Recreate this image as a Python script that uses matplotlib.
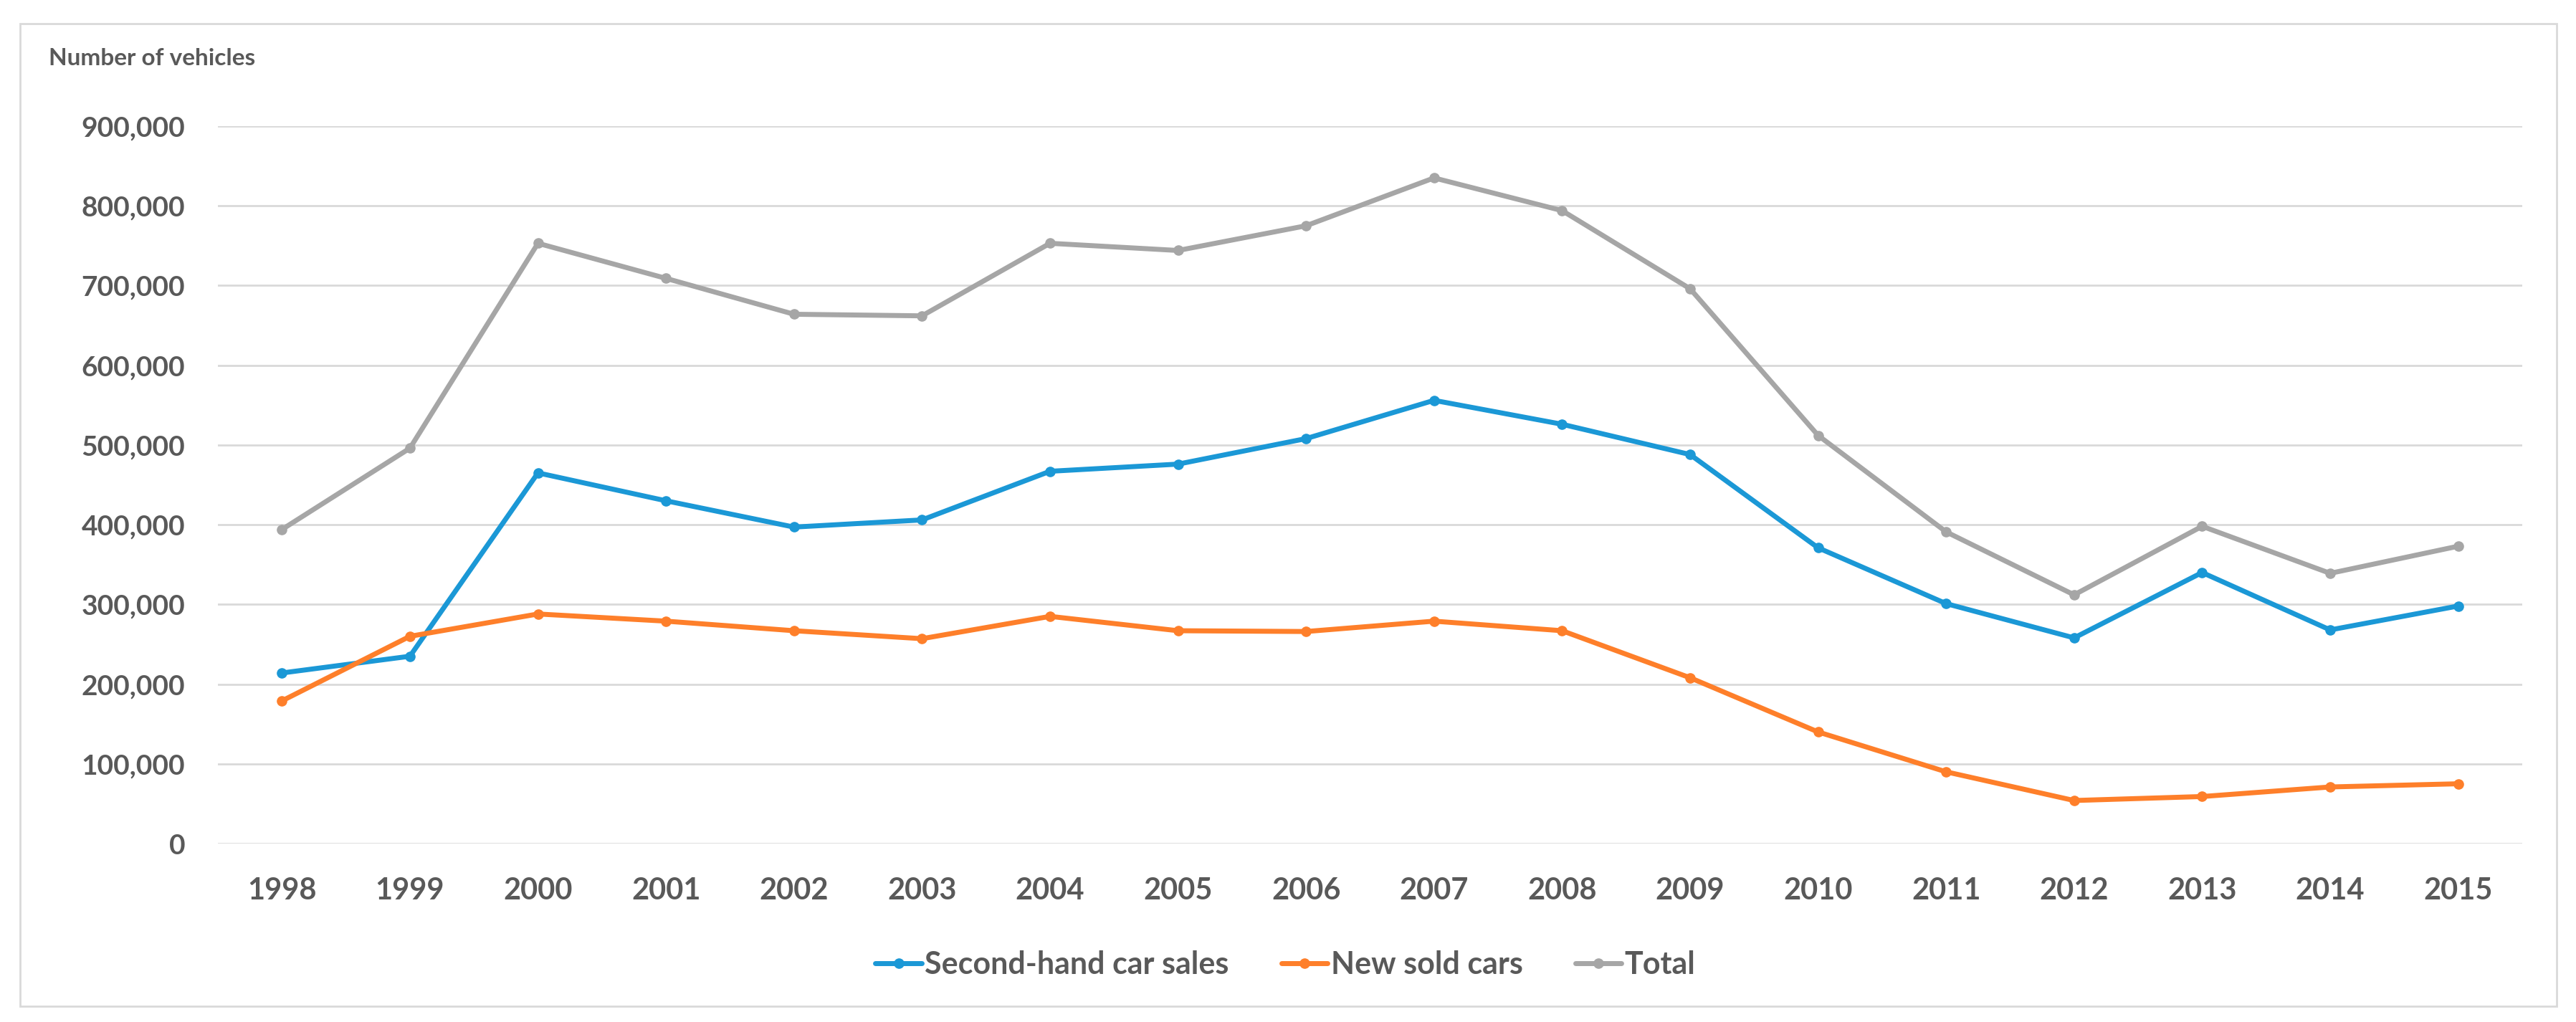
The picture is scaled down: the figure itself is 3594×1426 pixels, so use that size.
import matplotlib
matplotlib.use("Agg")
from matplotlib import pyplot as plt
from matplotlib.patches import Rectangle
from matplotlib.ticker import FuncFormatter

plt.rcParams['font.family'] = ['Lato', 'DejaVu Sans']

years = [str(y) for y in range(1998, 2016)]
second_hand = [214000, 235000, 465000, 430000, 397000, 406000, 467000, 476000, 508000,
               556000, 526000, 488000, 371000, 301000, 258000, 340000, 268000, 298000]
new_sold = [179000, 260000, 288000, 279000, 267000, 257000, 285000, 267000, 266000,
            279000, 267000, 208000, 140000, 90000, 54000, 59000, 71000, 75000]
total = [394000, 496000, 753000, 709000, 664000, 662000, 753000, 744000, 775000,
         835000, 794000, 696000, 512000, 391000, 312000, 398000, 339000, 373000]

series_names = ["Second-hand car sales", "New sold cars", "Total"]
colors = ["#1B98D6", "#FE7F2A", "#A6A6A6"]
text_col = "#595959"

fig = plt.figure(figsize=(35.94, 14.26), dpi=100)
ax = fig.add_axes([0.0846, 0.1746, 0.8945, 0.702])

x = range(len(years))
for vals, name, c in zip([second_hand, new_sold, total], series_names, colors):
    ax.plot(x, vals, color=c, lw=5, marker='o', markersize=9.5, label=name,
            solid_joinstyle='round', solid_capstyle='round')

ax.set_xlim(-0.5, len(years) - 0.5)
ax.set_ylim(0, 900000)
ax.set_yticks(range(0, 900001, 100000))
ax.yaxis.set_major_formatter(FuncFormatter(lambda v, p: f"{int(v):,}"))
ax.set_xticks(list(x))
ax.set_xticklabels(years)
ax.grid(axis='y', color='#D9D9D9', lw=2)
ax.set_axisbelow(True)
for s in ax.spines.values():
    s.set_visible(False)
ax.tick_params(axis='both', length=0, colors=text_col, labelsize=28)
ax.tick_params(axis='y', pad=33)
ax.tick_params(axis='x', pad=34, labelsize=30)
for lbl in ax.get_xticklabels() + ax.get_yticklabels():
    lbl.set_fontweight('bold')

fig.text(0.0189, 0.9425, "Number of vehicles", fontsize=24, color=text_col,
         va='center', ha='left', fontweight='bold')

leg = fig.legend(loc='center', bbox_to_anchor=(0.499, 0.056), ncol=3, frameon=False,
                 handlelength=1.5, handletextpad=0.1, columnspacing=1.7,
                 prop={'size': 31, 'weight': 'bold'})
for t in leg.get_texts():
    t.set_color(text_col)

fig.patches.append(Rectangle((0.00779, 0.01543), 0.9847, 0.9614, transform=fig.transFigure,
                             fill=False, edgecolor='#D9D9D9', lw=2))

fig.savefig("out.png", dpi=100)
